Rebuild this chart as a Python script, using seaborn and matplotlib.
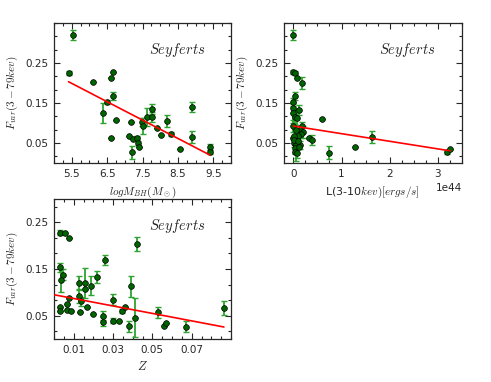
import numpy as np
import matplotlib
matplotlib.use('Agg')
import matplotlib.pyplot as plt
from matplotlib.ticker import FixedLocator, MultipleLocator
import seaborn as sns

sns.set_style('ticks')
plt.rcParams['font.family'] = ['DejaVu Sans']
plt.rcParams['mathtext.fontset'] = 'cm'

# Panel 1: black hole mass vs Fvar
mbh_x = [5.54, 5.41, 6.11, 6.62, 6.67, 6.66, 6.49, 6.37, 6.75, 6.62, 7.17, 7.12, 7.20, 7.24, 7.35,
         7.36, 7.41, 7.48, 7.50, 7.64, 7.76, 7.78, 7.92, 8.03, 8.19, 8.30, 8.55, 8.90, 8.90, 9.40, 9.40]
mbh_y = [0.320, 0.226, 0.204, 0.213, 0.227, 0.169, 0.154, 0.126, 0.109, 0.064, 0.104, 0.069, 0.027, 0.060, 0.062,
         0.051, 0.041, 0.103, 0.092, 0.116, 0.136, 0.116, 0.088, 0.070, 0.106, 0.074, 0.036, 0.140, 0.066, 0.041, 0.029]
mbh_err = [0.012, 0.005, 0.0, 0.0, 0.0, 0.010, 0.005, 0.025, 0.0, 0.0, 0.0, 0.0, 0.016, 0.0, 0.005,
           0.005, 0.0, 0.010, 0.020, 0.022, 0.012, 0.012, 0.0, 0.0, 0.015, 0.005, 0.0, 0.013, 0.015, 0.008, 0.005]
mbh_fit = (-0.0459, 0.4518)  # slope, intercept

# Panel 2: 3-10 keV luminosity (1e44 erg/s) vs Fvar
lum_x = [0.0, 0.0, 0.04, 0.07, 0.17, 0.03, 0.0, 0.0, 0.11, 0.0, 0.04, 0.07, 0.0, 0.18, 0.14,
         0.20, 0.15, 0.0, 0.05, 0.10, 0.02, 0.05, 0.13, 0.04, 0.04, 0.08, 0.01, 0.02, 0.09, 0.06,
         0.12, 0.32, 0.38, 0.60, 0.73, 1.29, 1.63, 3.19, 3.26]
lum_y = [0.320, 0.227, 0.225, 0.214, 0.201, 0.169, 0.153, 0.137, 0.133, 0.125, 0.116, 0.112, 0.092, 0.094, 0.082,
         0.077, 0.072, 0.063, 0.060, 0.069, 0.051, 0.046, 0.046, 0.038, 0.029, 0.026, 0.069, 0.058, 0.055, 0.083,
         0.040, 0.062, 0.058, 0.110, 0.026, 0.040, 0.066, 0.029, 0.036]
lum_err = [0.012, 0.005, 0.005, 0.0, 0.015, 0.010, 0.010, 0.012, 0.012, 0.025, 0.020, 0.020, 0.015, 0.010, 0.012,
           0.015, 0.010, 0.0, 0.005, 0.0, 0.010, 0.040, 0.010, 0.010, 0.005, 0.012, 0.0, 0.0, 0.0, 0.012,
           0.005, 0.0, 0.013, 0.0, 0.016, 0.0, 0.015, 0.005, 0.0]
lum_fit = (-0.019, 0.0926)

# Panel 3: redshift vs Fvar
z_x = [0.0029, 0.0058, 0.0078, 0.0029, 0.0045, 0.0037, 0.0029, 0.0029, 0.0068, 0.0068, 0.0078, 0.0086, 0.0129,
       0.0129, 0.0131, 0.0139, 0.0158, 0.0158, 0.0168, 0.0188, 0.0198, 0.0219, 0.025, 0.025, 0.026, 0.0299,
       0.0299, 0.033, 0.0348, 0.0359, 0.0379, 0.0389, 0.041, 0.042, 0.053, 0.056, 0.057, 0.067, 0.0864]
z_y = [0.228, 0.228, 0.216, 0.1535, 0.138, 0.126, 0.069, 0.059, 0.074, 0.063, 0.088, 0.060, 0.120,
       0.092, 0.057, 0.081, 0.120, 0.108, 0.069, 0.114, 0.054, 0.133, 0.050, 0.037, 0.169, 0.0845,
       0.039, 0.039, 0.060, 0.069, 0.027, 0.113, 0.046, 0.2025, 0.057, 0.028, 0.035, 0.026, 0.066]
z_err = [0.005, 0.0, 0.0, 0.010, 0.012, 0.025, 0.0, 0.0, 0.0, 0.0, 0.0, 0.0, 0.015,
         0.015, 0.0, 0.010, 0.032, 0.0, 0.0, 0.020, 0.0, 0.012, 0.010, 0.010, 0.010, 0.012,
         0.005, 0.0, 0.005, 0.0, 0.012, 0.022, 0.041, 0.015, 0.012, 0.0, 0.0, 0.012, 0.015]
z_fit = (-0.80, 0.0948)

ylab = r'$F_{var}(3-79kev)$'
err_col = '#2fa32f'
pt_col = '#006400'


def panel(ax, x, y, err, fit, xline):
    x = np.asarray(x)
    ax.errorbar(x, y, yerr=err, fmt='none', ecolor=err_col, elinewidth=1.3,
                capsize=2, capthick=1, zorder=2)
    sns.scatterplot(x=x, y=y, ax=ax, color=pt_col, edgecolor='black', s=17,
                    linewidth=0.5, zorder=3)
    xl = np.array(xline)
    sns.lineplot(x=xl, y=fit[1] + fit[0] * xl, ax=ax, color='red', lw=1.2, zorder=4)
    ax.text(0.695, 0.81, r'$Seyferts$', transform=ax.transAxes, ha='center', va='center', fontsize=10.5)
    ax.set_ylabel(ylab, fontsize=8, labelpad=4)
    ax.yaxis.set_major_locator(FixedLocator([0.05, 0.15, 0.25]))
    ax.yaxis.set_minor_locator(FixedLocator(np.arange(-0.05, 0.4, 0.1 / 3)))
    ax.tick_params(which='both', direction='in', top=True, right=True, labelsize=7.5, width=0.8)
    ax.tick_params(which='major', length=4, pad=4)
    ax.tick_params(which='minor', length=2)
    for s in ax.spines.values():
        s.set_linewidth(0.9)


fig = plt.figure(figsize=(4.91, 3.82), dpi=100)
ax1 = fig.add_axes([0.110, 0.573, 0.3605, 0.3665])
ax2 = fig.add_axes([0.578, 0.573, 0.3625, 0.3665])
ax3 = fig.add_axes([0.110, 0.1126, 0.3605, 0.3665])

panel(ax1, mbh_x, mbh_y, mbh_err, mbh_fit, [min(mbh_x), max(mbh_x)])
ax1.set_xlim(5.0, 10.0)
ax1.set_ylim(0, 0.35)
ax1.xaxis.set_major_locator(FixedLocator([5.5, 6.5, 7.5, 8.5, 9.5]))
ax1.xaxis.set_minor_locator(MultipleLocator(0.25))
ax1.set_xlabel(r'$logM_{BH}(M_\odot)$', fontsize=8)

lum = np.array(lum_x) * 1e44
fit2 = (lum_fit[0] / 1e44, lum_fit[1])
panel(ax2, lum, lum_y, lum_err, fit2, [0, lum.max()])
ax2.set_xlim(-0.2e44, 3.5e44)
ax2.set_ylim(0, 0.35)
ax2.xaxis.set_major_locator(MultipleLocator(1e44))
ax2.xaxis.set_minor_locator(MultipleLocator(0.25e44))
ax2.xaxis.get_offset_text().set_fontsize(7.5)
ax2.set_xlabel(r'L(3-10$kev)[ergs/s]$', fontsize=8)

panel(ax3, z_x, z_y, z_err, z_fit, [0.0, max(z_x)])
ax3.set_xlim(0, 0.09)
ax3.set_ylim(0, 0.3)
ax3.xaxis.set_major_locator(FixedLocator([0.01, 0.03, 0.05, 0.07]))
ax3.xaxis.set_minor_locator(MultipleLocator(0.005))
ax3.set_xlabel(r'$Z$', fontsize=9)

fig.savefig('out.png', dpi=100)
